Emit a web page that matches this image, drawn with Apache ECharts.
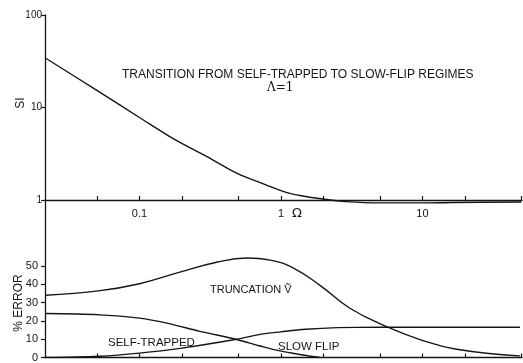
<!DOCTYPE html>
<html><head><meta charset="utf-8">
<script src="https://cdn.jsdelivr.net/npm/echarts@6/dist/echarts.min.js"></script>
<style>html,body{margin:0;padding:0;background:#fff}#c{width:523px;height:363px}</style>
</head><body><div id="c"></div>
<script>
// Ω tick marks and labels (log axis)
const omegaTicks = [0.05, 0.1, 0.2, 0.5, 1, 2, 5, 10, 20, 50];
const omegaLabels = [0.1, 1, 10];
const errorTicks = [0, 10, 20, 30, 40, 50];

// Top panel: S_I vs Ω
const sOmega = [0.0215, 0.05, 0.1, 0.173, 0.3, 0.49, 0.79, 1.1, 1.36, 1.98, 2.9, 5.0, 10, 16.4, 50];
const sValue = [34.5, 15.3, 7.8, 4.6, 2.94, 1.94, 1.45, 1.2, 1.12, 1.025, 0.96, 0.93, 0.93, 0.94, 0.95];

// Bottom panel: % error curves
const truncOmega = [0.0215, 0.0526, 0.1, 0.193, 0.351, 0.572, 0.836, 1.216, 1.886, 3.07, 5.58, 9.59, 17.4, 48.8];
const truncValue = [34, 36.5, 40.3, 46.6, 52, 54.3, 53.2, 49.0, 39.4, 26.9, 16.8, 9.8, 4.5, 0.9];
const selfOmega = [0.0215, 0.0526, 0.1, 0.156, 0.268, 0.486, 0.711, 0.984, 1.43, 1.89];
const selfValue = [24, 23.3, 21.5, 18.8, 14.3, 9.8, 6.3, 3.6, 1.4, 0];
const slowOmega = [0.0215, 0.0526, 0.1, 0.193, 0.486, 0.711, 1.0, 1.5, 2.5, 5, 10, 48.8];
const slowValue = [0, 0.7, 2.4, 5, 10, 12.6, 14, 15.4, 16.3, 16.6, 16.5, 16.5];

const zip = (a, b) => a.map((v, i) => [v, b[i]]);
const ink = '#151515';
const font = 'Liberation Sans, Arial, sans-serif';

const chart = echarts.init(document.getElementById('c'));

function omegaAxis(grid, showLabels) {
  return {
    type: 'log', gridIndex: grid, min: 0.0215, max: 50.5,
    axisLine: {show: true, lineStyle: {color: ink, width: 1.3}},
    axisTick: {show: true, inside: true, length: 4, customValues: omegaTicks.slice(), lineStyle: {color: ink, width: 1.2}},
    axisLabel: showLabels ? {show: true, customValues: omegaLabels.slice(), margin: 8, fontSize: 11, color: ink, fontFamily: font,
      formatter: v => String(+(+v).toPrecision(3))} : {show: false},
    splitLine: {show: false}
  };
}

function label(text, x, y, size, extra) {
  return Object.assign({type: 'text', x: x, y: y,
    style: {text: text, align: 'left', verticalAlign: 'middle', fontSize: size, fontFamily: font, fill: ink}}, extra || {});
}

chart.setOption({
  animation: false,
  backgroundColor: '#fff',
  grid: [
    {left: 45, top: 15, width: 477, height: 185},
    {left: 45, top: 200, width: 477, height: 160}
  ],
  xAxis: [omegaAxis(0, true), omegaAxis(1, false)],
  yAxis: [
    {type: 'log', gridIndex: 0, min: 1, max: 100,
      axisLine: {show: true, lineStyle: {color: ink, width: 1.3}},
      axisTick: {show: true, length: 4, lineStyle: {color: ink, width: 1.2}},
      axisLabel: {fontSize: 10, margin: 3, color: ink, fontFamily: font},
      splitLine: {show: false}},
    {type: 'value', gridIndex: 1, min: 0, max: 86,
      axisLine: {show: true, lineStyle: {color: ink, width: 1.3}},
      axisTick: {show: true, length: 4, customValues: errorTicks.slice(), lineStyle: {color: ink, width: 1.2}},
      axisLabel: {customValues: errorTicks.slice(), fontSize: 11, margin: 7, color: ink, fontFamily: font},
      splitLine: {show: false}}
  ],
  series: [
    {type: 'line', xAxisIndex: 0, yAxisIndex: 0, data: zip(sOmega, sValue), showSymbol: false, smooth: 0.3, clip: false,
      lineStyle: {color: ink, width: 1.4}},
    {type: 'line', xAxisIndex: 1, yAxisIndex: 1, data: zip(truncOmega, truncValue), showSymbol: false, smooth: 0.45,
      lineStyle: {color: ink, width: 1.4}},
    {type: 'line', xAxisIndex: 1, yAxisIndex: 1, data: zip(selfOmega, selfValue), showSymbol: false, smooth: 0.35,
      lineStyle: {color: ink, width: 1.4}},
    {type: 'line', xAxisIndex: 1, yAxisIndex: 1, data: zip(slowOmega, slowValue), showSymbol: false, smooth: 0.35,
      lineStyle: {color: ink, width: 1.4}}
  ],
  graphic: [
    label('TRANSITION FROM SELF-TRAPPED TO SLOW-FLIP REGIMES', 122, 75, 12),
    label('Λ=1', 267, 88, 12, {style: {text: 'Λ=1', align: 'left', verticalAlign: 'middle', fontSize: 12, fontFamily: 'DejaVu Serif', fill: ink}}),
    label('Ω', 292, 214, 13, {style: {text: 'Ω', align: 'left', verticalAlign: 'middle', fontSize: 13, fontFamily: 'DejaVu Sans', fill: ink}}),
    label('SI', 21, 103, 12, {rotation: Math.PI / 2, style: {text: 'SI', align: 'center', verticalAlign: 'middle', fontSize: 12, fontFamily: font, fill: ink}}),
    label('% ERROR', 19, 303, 12, {rotation: Math.PI / 2, style: {text: '% ERROR', align: 'center', verticalAlign: 'middle', fontSize: 12, fontFamily: font, fill: ink}}),
    label('TRUNCATION Ṽ', 210, 290, 11),
    label('SELF-TRAPPED', 108, 343, 11.5),
    label('SLOW FLIP', 278, 347, 11.5)
  ]
});
</script></body></html>
